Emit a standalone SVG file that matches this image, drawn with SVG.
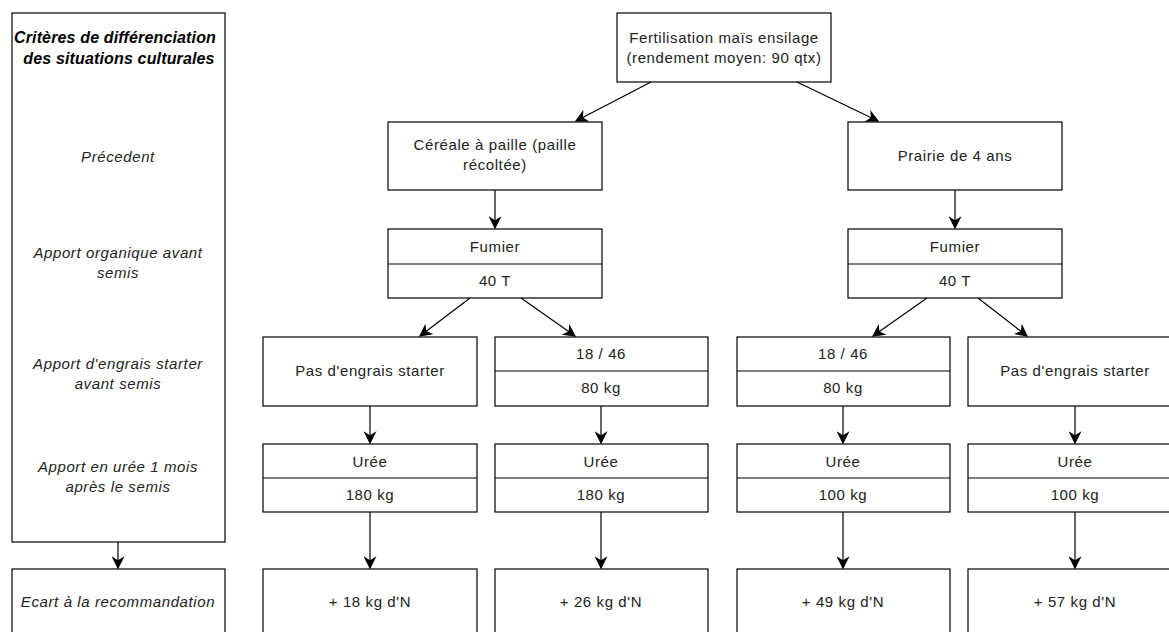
<svg xmlns="http://www.w3.org/2000/svg" width="1169" height="632" viewBox="0 0 1169 632">
<style>
rect{fill:#fff;stroke:#000;stroke-width:1.2}
.d{stroke:#000;stroke-width:1.2}
text{font-family:"Liberation Sans",Arial,sans-serif;font-size:15px;letter-spacing:0.6px;fill:#222;text-anchor:middle}
.i{font-style:italic}
.h{font-weight:bold;font-style:italic;font-size:16px;letter-spacing:0.15px;fill:#000}
.c line{stroke:#000;stroke-width:1.2;marker-end:url(#a)}
</style>
<defs>
<marker id="a" viewBox="0 0 10 10" refX="9" refY="5" markerWidth="13" markerHeight="13" markerUnits="userSpaceOnUse" orient="auto">
<path d="M0,0 L10,5 L0,10 L3,5 Z" fill="#000"/>
</marker>
</defs>
<rect width="1169" height="632" style="fill:#fff;stroke:none"/>
<g id="criteria">
<rect x="12" y="13" width="213" height="529"/>
<text class="h" x="115" y="43">Critères de différenciation</text>
<text class="h" x="119" y="64">des situations culturales</text>
<text class="i" x="118" y="162">Précedent</text>
<text class="i" x="118" y="258">Apport organique avant</text>
<text class="i" x="118" y="278">semis</text>
<text class="i" x="118" y="369">Apport d'engrais starter</text>
<text class="i" x="118" y="389">avant semis</text>
<text class="i" x="118" y="472">Apport en urée 1 mois</text>
<text class="i" x="118" y="492">après le semis</text>
</g>
<g id="ecart">
<rect x="12" y="569" width="213" height="70"/>
<text class="i" x="118" y="607">Ecart à la recommandation</text>
</g>
<g id="root">
<rect x="617" y="13" width="214" height="69"/>
<text x="724" y="43">Fertilisation maïs ensilage</text>
<text x="724" y="63">(rendement moyen: 90 qtx)</text>
</g>
<g id="cereale">
<rect x="388" y="122" width="214" height="68"/>
<text x="495" y="150">Céréale à paille (paille</text>
<text x="495" y="170">récoltée)</text>
</g>
<g id="prairie">
<rect x="848" y="122" width="214" height="68"/>
<text x="955" y="161">Prairie de 4 ans</text>
</g>
<g id="fumier1">
<rect x="388" y="229" width="214" height="69"/>
<line class="d" x1="388" y1="264" x2="602" y2="264"/>
<text x="495" y="252">Fumier</text>
<text x="495" y="286">40 T</text>
</g>
<g id="fumier2">
<rect x="848" y="229" width="214" height="69"/>
<line class="d" x1="848" y1="264" x2="1062" y2="264"/>
<text x="955" y="252">Fumier</text>
<text x="955" y="286">40 T</text>
</g>
<g id="starter1">
<rect x="263" y="337" width="214" height="69"/>
<text x="370" y="376">Pas d'engrais starter</text>
</g>
<g id="starter2">
<rect x="495" y="337" width="213" height="69"/>
<line class="d" x1="495" y1="371" x2="708" y2="371"/>
<text x="601" y="359">18 / 46</text>
<text x="601" y="393">80 kg</text>
</g>
<g id="starter3">
<rect x="737" y="337" width="213" height="69"/>
<line class="d" x1="737" y1="371" x2="950" y2="371"/>
<text x="843" y="359">18 / 46</text>
<text x="843" y="393">80 kg</text>
</g>
<g id="starter4">
<rect x="968" y="337" width="214" height="69"/>
<text x="1075" y="376">Pas d'engrais starter</text>
</g>
<g id="uree1">
<rect x="263" y="444" width="214" height="68"/>
<line class="d" x1="263" y1="478" x2="477" y2="478"/>
<text x="370" y="467">Urée</text>
<text x="370" y="500">180 kg</text>
</g>
<g id="uree2">
<rect x="495" y="444" width="213" height="68"/>
<line class="d" x1="495" y1="478" x2="708" y2="478"/>
<text x="601" y="467">Urée</text>
<text x="601" y="500">180 kg</text>
</g>
<g id="uree3">
<rect x="737" y="444" width="213" height="68"/>
<line class="d" x1="737" y1="478" x2="950" y2="478"/>
<text x="843" y="467">Urée</text>
<text x="843" y="500">100 kg</text>
</g>
<g id="uree4">
<rect x="968" y="444" width="214" height="68"/>
<line class="d" x1="968" y1="478" x2="1182" y2="478"/>
<text x="1075" y="467">Urée</text>
<text x="1075" y="500">100 kg</text>
</g>
<g id="res1">
<rect x="263" y="569" width="214" height="70"/>
<text x="370" y="607">+ 18 kg d'N</text>
</g>
<g id="res2">
<rect x="495" y="569" width="213" height="70"/>
<text x="601" y="607">+ 26 kg d'N</text>
</g>
<g id="res3">
<rect x="737" y="569" width="213" height="70"/>
<text x="843" y="607">+ 49 kg d'N</text>
</g>
<g id="res4">
<rect x="968" y="569" width="214" height="70"/>
<text x="1075" y="607">+ 57 kg d'N</text>
</g>
<g id="connectors" class="c">
<line x1="118" y1="542" x2="118" y2="568"/>
<line x1="651" y1="82" x2="576" y2="121"/>
<line x1="797" y1="82" x2="878" y2="121"/>
<line x1="495" y1="190" x2="495" y2="228"/>
<line x1="955" y1="190" x2="955" y2="228"/>
<line x1="470" y1="298" x2="420" y2="336"/>
<line x1="521" y1="298" x2="575" y2="336"/>
<line x1="927" y1="298" x2="873" y2="336"/>
<line x1="978" y1="298" x2="1027" y2="336"/>
<line x1="370" y1="406" x2="370" y2="443"/>
<line x1="601" y1="406" x2="601" y2="443"/>
<line x1="843" y1="406" x2="843" y2="443"/>
<line x1="1075" y1="406" x2="1075" y2="443"/>
<line x1="370" y1="512" x2="370" y2="568"/>
<line x1="601" y1="512" x2="601" y2="568"/>
<line x1="843" y1="512" x2="843" y2="568"/>
<line x1="1075" y1="512" x2="1075" y2="568"/>
</g>
</svg>
